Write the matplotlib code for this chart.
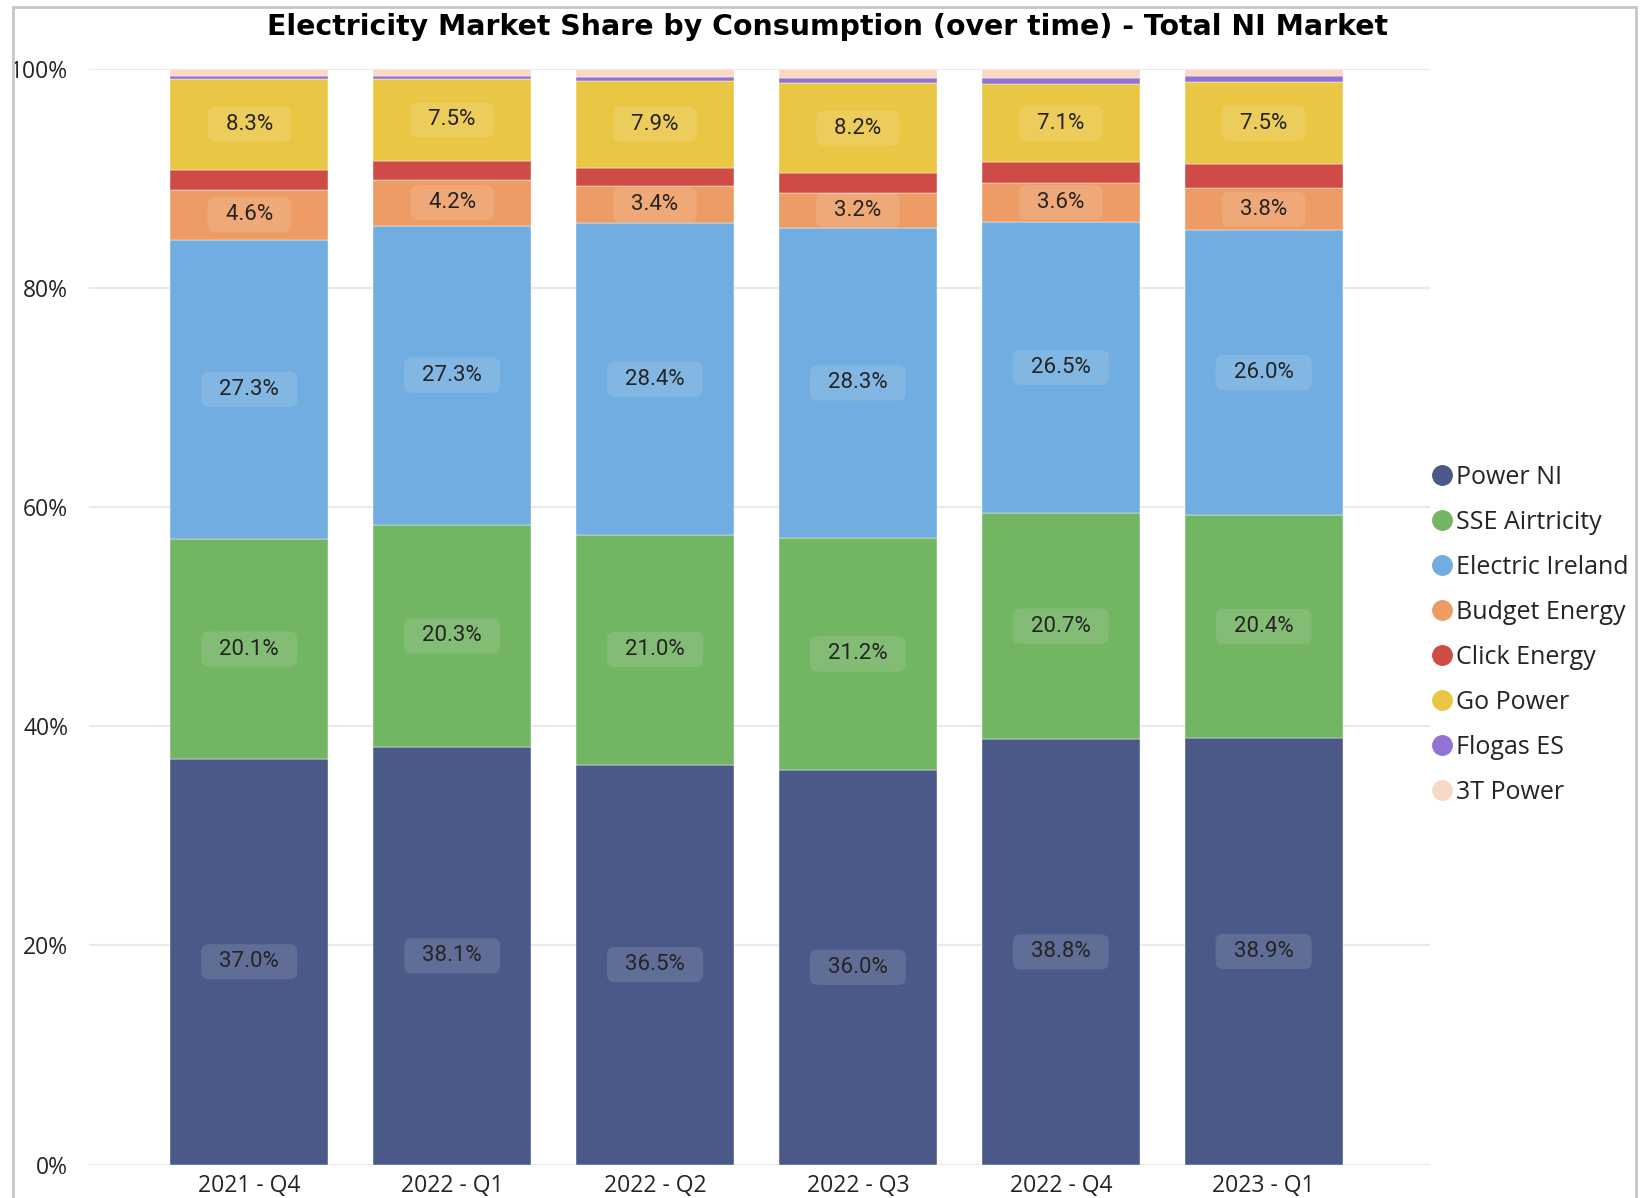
import matplotlib
matplotlib.use("Agg")
import matplotlib.pyplot as plt
from matplotlib.lines import Line2D
from matplotlib.patches import Rectangle
import numpy as np

# quarters and supplier shares (%)
categories = ["2021 - Q4", "2022 - Q1", "2022 - Q2", "2022 - Q3", "2022 - Q4", "2023 - Q1"]
suppliers = ["Power NI", "SSE Airtricity", "Electric Ireland", "Budget Energy",
             "Click Energy", "Go Power", "Flogas ES", "3T Power"]
power_ni = [37.0, 38.1, 36.5, 36.0, 38.8, 38.9]
sse_airtricity = [20.1, 20.3, 21.0, 21.2, 20.7, 20.4]
electric_ireland = [27.3, 27.3, 28.4, 28.3, 26.5, 26.0]
budget_energy = [4.6, 4.2, 3.4, 3.2, 3.6, 3.8]
click_energy = [1.8, 1.7, 1.7, 1.8, 1.9, 2.2]
go_power = [8.3, 7.5, 7.9, 8.2, 7.1, 7.5]
flogas_es = [0.3, 0.3, 0.4, 0.5, 0.6, 0.6]
t3_power = [0.6, 0.6, 0.7, 0.8, 0.8, 0.6]

colors = ["#4B5989", "#72B562", "#71ADE0", "#ED9C65",
          "#CF4B45", "#EAC645", "#9273D4", "#F8D9C5"]

series = [power_ni, sse_airtricity, electric_ireland, budget_energy,
          click_energy, go_power, flogas_es, t3_power]

TEXT = "#252423"

fig = plt.figure(figsize=(16.42, 11.98), dpi=100)
ax = fig.add_axes([89 / 1642, 1 - 1164.5 / 1198, (1430 - 89) / 1642, (1164.5 - 69) / 1198])

x = np.arange(len(categories))
bottom = np.zeros(len(categories))
for name, vals, col in zip(suppliers, series, colors):
    vals = np.array(vals)
    ax.bar(x, vals, bottom=bottom, width=0.778, color=col, edgecolor="white",
           linewidth=0.3, zorder=2, label=name)
    for xi, v, b in zip(x, vals, bottom):
        if v >= 3:
            ax.text(xi, b + v / 2, f"  {v:.1f}%  ", ha="center", va="center",
                    fontsize=16, family="Roboto", color=TEXT, zorder=4,
                    bbox=dict(boxstyle="round,pad=0.32,rounding_size=0.35",
                              facecolor=(1, 1, 1, 0.12), edgecolor="none"))
    bottom += vals

ax.set_xlim(-0.79, 5.82)
ax.set_ylim(0, 100)
ax.set_yticks([0, 20, 40, 60, 80, 100])
ax.set_yticklabels(["0%", "20%", "40%", "60%", "80%", "100%"])
ax.set_xticks(x)
ax.set_xticklabels(categories)
ax.tick_params(axis="y", length=0, pad=15, labelsize=16.5, labelcolor=TEXT)
ax.tick_params(axis="x", length=0, pad=7, labelsize=16.5, labelcolor=TEXT)
for lab in ax.get_xticklabels() + ax.get_yticklabels():
    lab.set_family("Open Sans")
ax.grid(axis="y", color="#E9E9E9", linewidth=1.5, zorder=0)
ax.set_axisbelow(True)
for s in ax.spines.values():
    s.set_visible(False)

fig.text(827 / 1642, 1 - 27 / 1198,
         "Electricity Market Share by Consumption (over time) - Total NI Market",
         ha="center", va="center", fontsize=20.4, fontweight="bold",
         family="DejaVu Sans", color="black")

handles = [Line2D([0], [0], marker="o", linestyle="none", markersize=14,
                  markerfacecolor=c, markeredgecolor=c) for c in colors]
fig.legend(handles, suppliers, loc="upper left",
           bbox_to_anchor=(1428 / 1642, 1 - 465 / 1198), frameon=False,
           prop={"family": "Open Sans", "size": 18}, labelcolor=TEXT,
           handletextpad=0.0, handlelength=1.1, labelspacing=0.8,
           borderaxespad=0, borderpad=0)

# light frame around the visual
fig.add_artist(Rectangle((13 / 1642, -0.05), (1636 - 13) / 1642, 1.05 - 7 / 1198,
                         transform=fig.transFigure, fill=False,
                         edgecolor="#C6C6C6", linewidth=2))

fig.savefig("out.png", dpi=100)
